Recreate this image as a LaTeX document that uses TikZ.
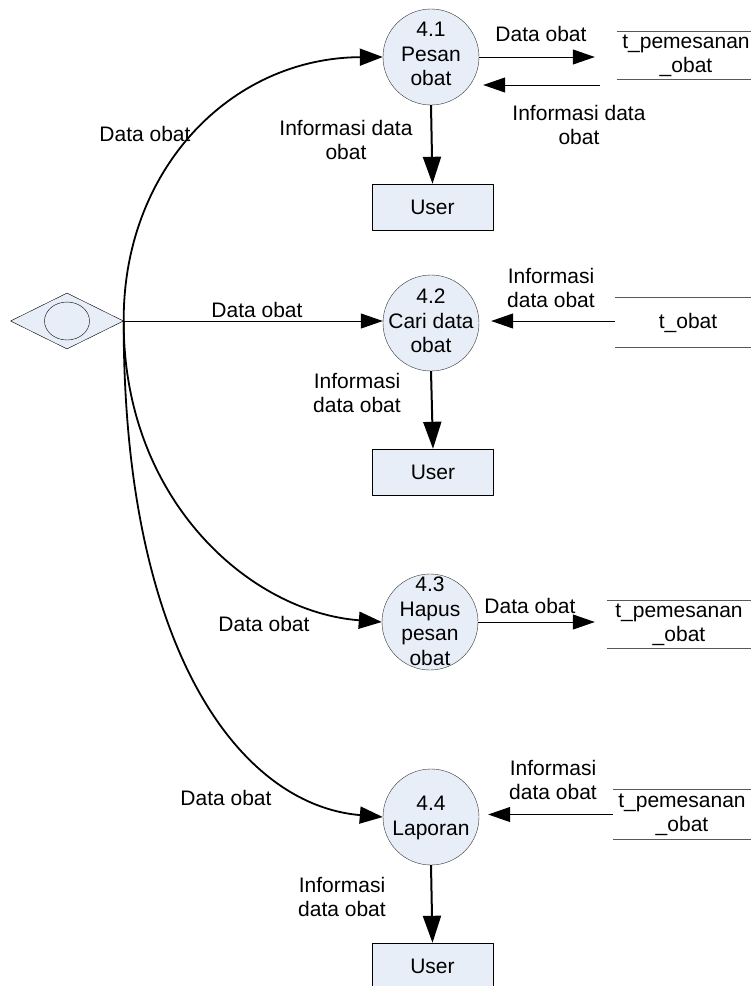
\documentclass[tikz,border=0pt]{standalone}
\usepackage{fontspec}
\setmainfont{Liberation Sans}
\usetikzlibrary{arrows.meta,shapes.geometric}
\definecolor{procfill}{RGB}{232,238,248}
\tikzset{
	proc/.style={circle, draw=black!80, fill=procfill, minimum size=96pt, inner sep=0pt},
	proctext/.style={align=center, font=\fontsize{21}{24.5}\selectfont},
	user/.style={draw, fill=procfill, minimum width=121pt, minimum height=46pt},
	store/.style={minimum height=47pt, inner sep=0pt, align=center},
	storeline/.style={draw=black!65, line width=1.3pt},
	flow/.style={-{Triangle[length=22pt,width=15pt]}, line width=1pt},
	outflow/.style={-{Triangle[length=27pt,width=18pt]}, line width=2pt},
	curveflow/.style={-{Triangle[length=23pt,width=17pt]}, line width=1.8pt},
	lbl/.style={align=center}
}
\begin{document}
\begin{tikzpicture}[x=1pt, y=-1pt, font=\fontsize{21}{24}\selectfont, line join=round]
	\useasboundingbox (0,0) rectangle (751,986);
	\node[diamond, draw, fill=procfill, minimum width=113pt, minimum height=56pt, inner sep=0pt] (ent) at (67,321) {};
	\node[ellipse, draw, minimum width=45pt, minimum height=38pt, inner sep=0pt] (entc) at (ent.center) {};
	\node[proc] (p1) at (431,57) {};
	\node[proc] (p2) at (431,323) {};
	\node[proc] (p3) at (430,622) {};
	\node[proc] (p4) at (431,817) {};
	\node[proctext] (p1t) at (431,54) {4.1\\Pesan\\obat};
	\node[proctext] (p2t) at (431,321) {4.2\\Cari data\\obat};
	\node[proctext] (p3t) at (430,621.5) {4.3\\Hapus\\pesan\\obat};
	\node[proctext] (p4t) at (431,818) {4.4\\Laporan};
	\node[user] (u1) at (432.5,207) {User};
	\node[user] (u2) at (433,472) {User};
	\node[user] (u4) at (432.5,966) {User};
	\node[store, minimum width=138pt] (s1) at (686,55.5) {t\_pemesanan\\\_obat};
	\node[store, minimum width=146pt, minimum height=49pt] (s2) at (688,322.5) {t\_obat};
	\node[store, minimum width=144pt] (s3) at (679,624.5) {t\_pemesanan\\\_obat};
	\node[store, minimum width=138pt, minimum height=49pt] (s4) at (682,814.5) {t\_pemesanan\\\_obat};
	\foreach \s in {s1,s2,s3,s4}
		\draw[storeline] (\s.north west) -- (\s.north east) (\s.south west) -- (\s.south east);
	\coordinate (r1) at (600,85);
	\draw[curveflow] (ent.east) .. controls (123,170) and (230,58) .. (p1.west);
	\draw[flow] (ent.east) -- (ent.east -| p2.west);
	\draw[curveflow] (ent.east) .. controls (123,500) and (250,612) .. (p3.west);
	\draw[curveflow] (ent.east) .. controls (123,650) and (240,805) .. (p4.west);
	\draw[flow, shorten >=22pt] (p1.east) -- (p1.east -| s1.west);
	\draw[flow, shorten >=4pt] (r1) -- (r1 -| p1.east);
	\draw[flow, shorten >=12pt] (s2.west |- p2t) -- (p2t -| p2.east);
	\draw[flow, shorten >=12pt] (p3.east) -- (p3.east -| s3.west);
	\draw[flow, shorten >=9pt] (s4.west) -- (s4.west -| p4.east);
	\draw[outflow] (p1.south) -- (u1.north);
	\draw[outflow] (p2.south) -- (u2.north);
	\draw[outflow] (p4.south) -- (u4.north);
	\path
	(145,134) node[lbl] (l1) {Data obat}
	(541,34) node[lbl] (l2) {Data obat}
	(579,125) node[lbl] (l3) {Informasi data\\obat}
	(346,140) node[lbl] (l4) {Informasi data\\obat}
	(257,310) node[lbl] (l5) {Data obat}
	(551,288) node[lbl] (l6) {Informasi\\data obat}
	(357,393) node[lbl] (l7) {Informasi\\data obat}
	(530,606) node[lbl] (l8) {Data obat}
	(264,624) node[lbl] (l9) {Data obat}
	(226,798) node[lbl] (l10) {Data obat}
	(553,780) node[lbl] (l11) {Informasi\\data obat}
	(342,897) node[lbl] (l12) {Informasi\\data obat};
\end{tikzpicture}
\end{document}
